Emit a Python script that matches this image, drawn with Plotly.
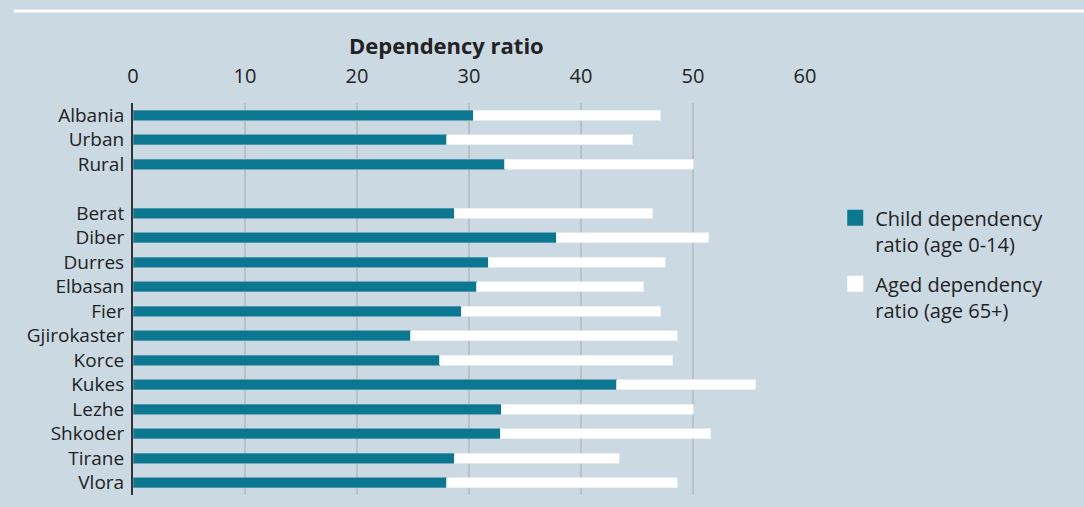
import plotly.graph_objects as go

regions = ["Albania", "Urban", "Rural", " ", "Berat", "Diber", "Durres", "Elbasan", "Fier",
           "Gjirokaster", "Korce", "Kukes", "Lezhe", "Shkoder", "Tirane", "Vlora"]
child = [30.4, 28.0, 33.2, None, 28.7, 37.8, 31.7, 30.7, 29.3, 24.8, 27.4, 43.2, 32.9, 32.8, 28.7, 28.0]
aged = [16.7, 16.6, 16.8, None, 17.7, 13.6, 15.8, 14.9, 17.8, 23.8, 20.8, 12.4, 17.1, 18.8, 14.7, 20.6]
x_ticks = [0, 10, 20, 30, 40, 50, 60]
series_names = ["Child dependency<br>ratio (age 0-14)", "Aged dependency<br>ratio (age 65+)"]

BG = "#cbd9e2"
TEAL = "#0b7791"
FONT = "Open Sans"

fig = go.Figure()
fig.add_trace(go.Bar(y=regions, x=child, orientation="h", name=series_names[0], showlegend=False,
                     marker=dict(color=TEAL, line=dict(width=0.8, color="#5d9db0")), width=0.42))
fig.add_trace(go.Bar(y=regions, x=aged, orientation="h", name=series_names[1], showlegend=False,
                     marker=dict(color="#ffffff", line=dict(width=0.8, color="#e6edf1")), width=0.42))
# legend entries with larger square swatches
for nm, col, grp in [(series_names[0], TEAL, "a"), (series_names[1], "#ffffff", "b")]:
    fig.add_trace(go.Scatter(x=[None], y=[None], mode="markers", name=nm, legendgroup=grp,
                             marker=dict(symbol="square", size=16, color=col, line=dict(width=0))))

fig.update_layout(
    width=1084, height=507,
    barmode="stack",
    paper_bgcolor=BG, plot_bgcolor=BG,
    margin=dict(l=133, r=279, t=103, b=12),
    font=dict(family=FONT, size=19, color="#222222"),
    showlegend=True,
    legend=dict(x=1.045, y=0.757, xanchor="left", yanchor="top", traceorder="grouped",
                bgcolor="rgba(0,0,0,0)", font=dict(size=20, color="#222222"), valign="top",
                itemsizing="trace", tracegroupgap=11),
    xaxis=dict(side="top", range=[0, 60], tickvals=x_ticks, showgrid=True, gridcolor="#b9c0c6",
               gridwidth=2, zeroline=False, showline=False, ticks="", ticklabelstandoff=15,
               tickfont=dict(size=20)),
    yaxis=dict(autorange="reversed", categoryorder="array", categoryarray=regions, showgrid=False,
               tickmode="array", tickvals=regions, ticktext=regions,
               showline=True, linecolor="#333333", linewidth=2, ticks="", ticklabelstandoff=3,
               zeroline=False, tickfont=dict(size=19)),
    shapes=[dict(type="line", xref="paper", yref="paper", x0=-0.177, x1=1.42, y0=1.235, y1=1.235,
                 line=dict(color="white", width=3))],
    annotations=[dict(text="<b>Dependency ratio</b>", xref="paper", yref="paper", x=0.466, y=1.147,
                      xanchor="center", yanchor="middle", showarrow=False,
                      font=dict(size=22, color="#222222", family=FONT))],
)

fig.write_html("out.html", config={"displayModeBar": False},
               post_script="document.body.style.margin='0';document.body.style.padding='0';")
